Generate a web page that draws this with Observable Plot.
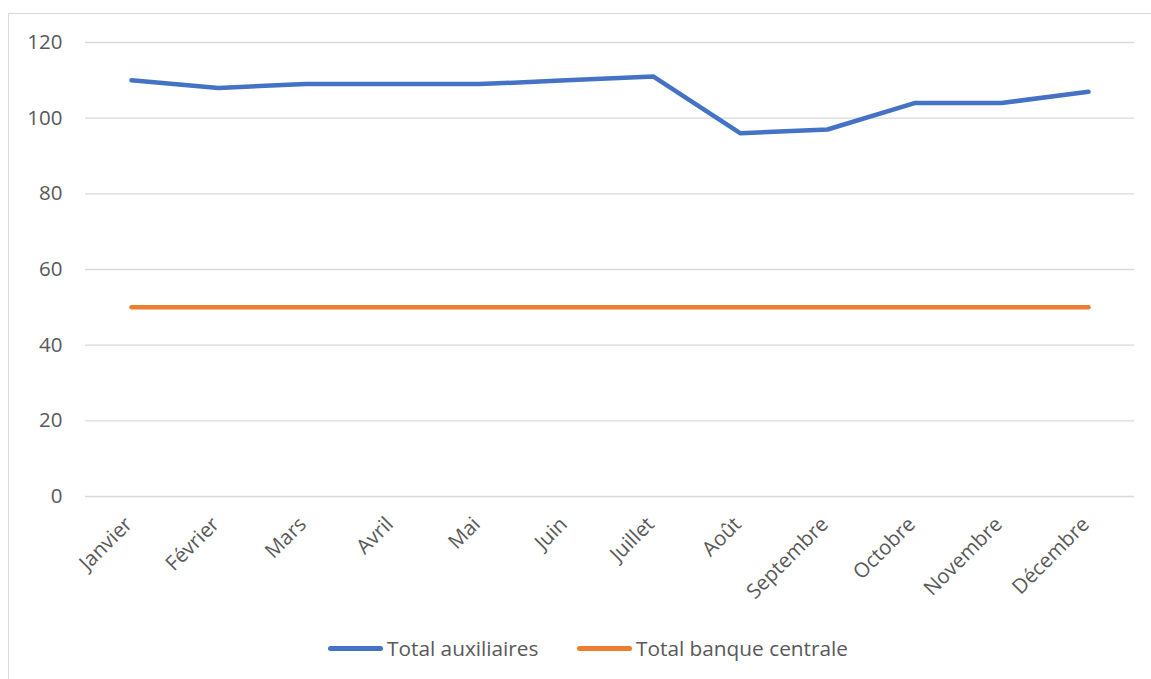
<!DOCTYPE html>
<html>
<head>
<meta charset="utf-8">
<script src="https://cdn.jsdelivr.net/npm/d3@7"></script>
<script src="https://cdn.jsdelivr.net/npm/@observablehq/plot@0.6"></script>
<style>
  html, body { margin: 0; padding: 0; background: #fff; overflow: hidden; width: 1151px; height: 679px; }
  #frame { position: absolute; left: 8px; top: 13px; width: 1200px; height: 720px; border: 1px solid #d9d9d9; box-sizing: border-box; }
  #chart { position: absolute; left: 0; top: 0; }
  #legend { position: absolute; left: 0; top: 634px; width: 1151px; height: 28px; font-family: "Open Sans", sans-serif; font-size: 20.8px; color: #595959; }
  .item { position: absolute; top: 0; display: flex; align-items: center; height: 28px; white-space: nowrap; }
  .sw { width: 55px; height: 5px; border-radius: 3px; margin-right: 4px; }
</style>
</head>
<body>
<div id="frame"></div>
<div id="chart"></div>
<div id="legend"></div>
<script>
const months = ["Janvier", "Février", "Mars", "Avril", "Mai", "Juin", "Juillet", "Août", "Septembre", "Octobre", "Novembre", "Décembre"];
const totalAuxiliaires = [110, 108, 109, 109, 109, 110, 111, 96, 97, 104, 104, 107];
const totalBanqueCentrale = [50, 50, 50, 50, 50, 50, 50, 50, 50, 50, 50, 50];
const seriesNames = ["Total auxiliaires", "Total banque centrale"];
const seriesColors = ["#4472C4", "#ED7D31"];
const yTicks = [0, 20, 40, 60, 80, 100, 120];

const data = [
  ...months.map((m, i) => ({month: m, value: totalAuxiliaires[i], series: seriesNames[0]})),
  ...months.map((m, i) => ({month: m, value: totalBanqueCentrale[i], series: seriesNames[1]}))
];

const chart = Plot.plot({
  width: 1151,
  height: 615,
  marginLeft: 85,
  marginRight: 17,
  marginTop: 42,
  marginBottom: 119,
  style: {fontFamily: "Open Sans, sans-serif", fontSize: "20.5px", color: "#595959", background: "transparent"},
  x: {type: "point", domain: months, padding: 0.5, axis: null},
  y: {domain: [0, 120], ticks: yTicks, axis: null},
  color: {domain: seriesNames, range: seriesColors},
  marks: [
    Plot.gridY(yTicks, {stroke: "#d9d9d9", strokeOpacity: 1, strokeWidth: 1.4}),
    Plot.axisY(yTicks, {label: null, tickSize: 0, tickPadding: 23, fontSize: 20.5, fill: "#595959"}),
    Plot.text(months, {x: d => d, frameAnchor: "bottom", rotate: -45, textAnchor: "end", lineAnchor: "bottom", dx: 2, dy: 29, fontSize: 20.5, fill: "#595959"}),
    Plot.line(data, {x: "month", y: "value", z: "series", stroke: "series", strokeWidth: 4.5, strokeLinecap: "round", strokeLinejoin: "round"})
  ]
});
document.getElementById("chart").appendChild(chart);

const legend = document.getElementById("legend");
const lefts = [328, 577];
seriesNames.forEach((name, i) => {
  const item = document.createElement("div");
  item.className = "item";
  item.style.left = lefts[i] + "px";
  const sw = document.createElement("div");
  sw.className = "sw";
  sw.style.background = seriesColors[i];
  const label = document.createElement("span");
  label.textContent = name;
  item.appendChild(sw);
  item.appendChild(label);
  legend.appendChild(item);
});
</script>
</body>
</html>
